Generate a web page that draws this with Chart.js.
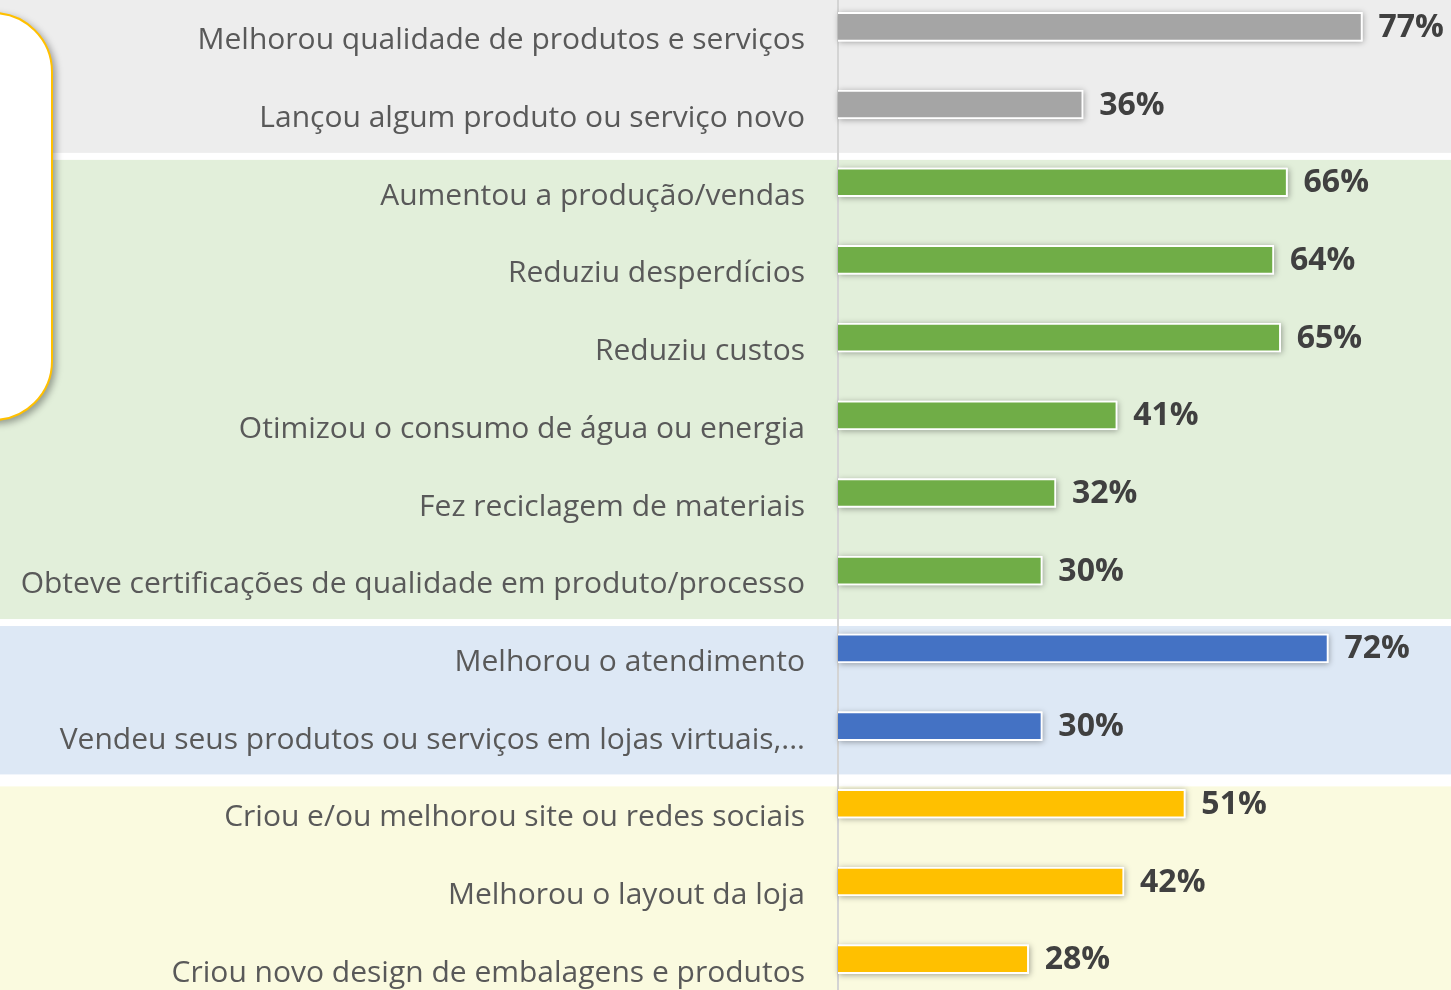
<!DOCTYPE html>
<html>
<head>
<meta charset="utf-8">
<script src="https://cdn.jsdelivr.net/npm/chart.js@4/dist/chart.umd.min.js"></script>
<style>
  html, body { margin: 0; padding: 0; background: #fff; overflow: hidden; }
  body { width: 1451px; height: 990px; position: relative; }
  #wrap { position: absolute; left: 0; top: -12px; width: 1451px; height: 1010px; }
  #box {
    position: absolute; left: -110px; top: 12px; width: 159px; height: 405px;
    background: #fff; border: 2px solid #FFC000; border-radius: 60px;
    box-shadow: 3px 3px 7px rgba(0,0,0,0.35);
  }
</style>
</head>
<body>
<div id="wrap"><canvas id="chart"></canvas></div>
<div id="box"></div>
<script>
const categories = [
    'Melhorou qualidade de produtos e serviços',
    'Lançou algum produto ou serviço novo',
    'Aumentou a produção/vendas',
    'Reduziu desperdícios',
    'Reduziu custos',
    'Otimizou o consumo de água ou energia',
    'Fez reciclagem de materiais',
    'Obteve certificações de qualidade em produto/processo',
    'Melhorou o atendimento',
    'Vendeu seus produtos ou serviços em lojas virtuais,...',
    'Criou e/ou melhorou site ou redes sociais',
    'Melhorou o layout da loja',
    'Criou novo design de embalagens e produtos'
];
const values = [77, 36, 66, 64, 65, 41, 32, 30, 72, 30, 51, 42, 28];
const groupOf = [0, 0, 1, 1, 1, 1, 1, 1, 2, 2, 3, 3, 3];

// style per group
const groupStyle = [
    { bar: '#A5A5A5', band: '#EDEDED', padTop: 0 },
    { bar: '#70AD47', band: '#E2EFDA', padTop: 0 },
    { bar: '#4472C4', band: '#DDE8F5', padTop: 0 },
    { bar: '#FFC000', band: '#FAFADF', padTop: 5 }
];

const bandsPlugin = {
    id: 'bands',
    beforeDraw: function (chart) {
        let ctx = chart.ctx
           ,y   = chart.scales.y;
        let step = y.getPixelForValue(1) - y.getPixelForValue(0);
        let shift = 13, gap = 3.5;
        let i = 0;
        while (i < groupOf.length) {
            let j = i;
            while (j + 1 < groupOf.length && groupOf[j + 1] === groupOf[i]) j++;
            let st = groupStyle[groupOf[i]];
            let top = i === 0 ? 0 : y.getPixelForValue(i) - step / 2 + shift + gap + st.padTop;
            let bottom = j === groupOf.length - 1 ? chart.height : y.getPixelForValue(j) + step / 2 + shift - gap;
            ctx.save();
            ctx.fillStyle = st.band;
            ctx.fillRect(0, top, chart.width, bottom - top);
            ctx.restore();
            i = j + 1;
        }
    },
    beforeDatasetsDraw: function (chart) {
        let ctx = chart.ctx;
        ctx.save();
        ctx.shadowColor = 'rgba(0,0,0,0.35)';
        ctx.shadowBlur = 6;
        ctx.shadowOffsetX = 1;
        ctx.shadowOffsetY = 1;
        ctx.fillStyle = '#ffffff';
        chart.getDatasetMeta(0).data.forEach(bar => {
            let p = bar.getProps(['x', 'y', 'base', 'height'], true);
            ctx.fillRect(p.base, p.y - p.height / 2, p.x - p.base, p.height);
        });
        ctx.restore();
    },
    afterDatasetsDraw: function (chart) {
        let ctx = chart.ctx;
        ctx.save();
        ctx.font = 'bold 32px "Open Sans"';
        ctx.fillStyle = '#404040';
        ctx.textAlign = 'left';
        ctx.textBaseline = 'middle';
        chart.getDatasetMeta(0).data.forEach((bar, i) => {
            ctx.fillText(values[i] + '%', bar.x + 16, bar.y + 1);
        });
        ctx.restore();
    }
};

new Chart(document.getElementById('chart'), {
    type: 'bar',
    data: {
        labels: categories,
        datasets: [{
            data: values,
            backgroundColor: groupOf.map(g => groupStyle[g].bar),
            borderColor: '#ffffff',
            borderWidth: 2,
            barThickness: 29
        }]
    },
    options: {
        indexAxis: 'y',
        responsive: true,
        maintainAspectRatio: false,
        animation: false,
        layout: { padding: 0 },
        plugins: {
            legend: { display: false },
            tooltip: { enabled: false }
        },
        scales: {
            x: {
                display: false,
                min: 0,
                max: 90
            },
            y: {
                grid: { display: false, drawTicks: false },
                border: { display: true, color: '#D4D4D4', width: 2 },
                afterFit: function (scale) {
                    scale.width = 838;
                    scale.paddingTop = 0;
                    scale.paddingBottom = 0;
                },
                ticks: {
                    autoSkip: false,
                    padding: 33,
                    labelOffset: 14,
                    color: '#595959',
                    font: { family: '"Open Sans"', size: 30 }
                }
            }
        }
    },
    plugins: [bandsPlugin]
});
</script>
</body>
</html>
